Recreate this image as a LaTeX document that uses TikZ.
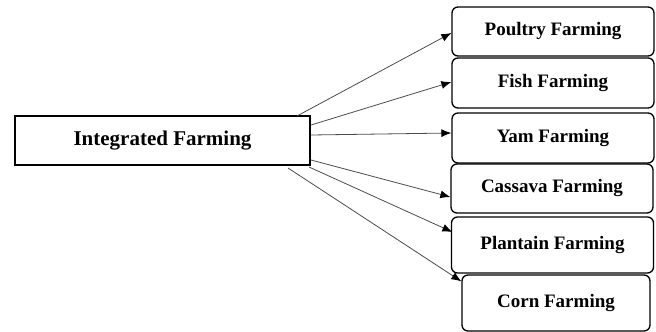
\documentclass[tikz,border=0pt]{standalone}
\usepackage{fontspec}
\setmainfont{Liberation Serif}
\usetikzlibrary{arrows.meta}
\begin{document}
\begin{tikzpicture}[x=1pt,y=-1pt,
  mainbox/.style={draw, line width=1.6pt, minimum width=295pt, minimum height=49pt, inner sep=0pt, font=\bfseries\fontsize{21}{24}\selectfont},
  itembox/.style={draw, line width=1.3pt, rounded corners=6pt, minimum width=202pt, inner sep=0pt, font=\bfseries\fontsize{19}{22}\selectfont},
  conn/.style={draw=black!70, line width=0.8pt, -{Latex[length=10pt,width=8pt,color=black]}}]
\useasboundingbox (0,0) rectangle (656,332);
\node[mainbox] (main) at (162.5,140.5) {Integrated Farming};
\node[itembox, minimum height=49pt] (poultry) at (553,31.5) {Poultry Farming};
\node[itembox, minimum height=50pt] (fish) at (553,83) {Fish Farming};
\node[itembox, minimum height=50pt] (yam) at (553,138) {Yam Farming};
\node[itembox, minimum height=49pt] (cassava) at (552,188.5) {Cassava Farming};
\node[itembox, minimum height=56pt] (plantain) at (552.5,245) {Plantain Farming};
\node[itembox, minimum height=56pt, minimum width=188pt] (corn) at (556,303) {Corn Farming};
\coordinate (s1) at (297,116);
\coordinate (s2) at (311,125);
\coordinate (s3) at (311,135);
\coordinate (s4) at (311,160);
\coordinate (s5) at (309,167);
\coordinate (s6) at (288,168);
\draw[conn] (s1) -- ([yshift=-1.5pt]poultry.west);
\draw[conn] (s2) -- ([yshift=1pt]fish.west);
\draw[conn] (s3) -- ([yshift=5pt]yam.west);
\draw[conn] (s4) -- ([yshift=-8.5pt]cassava.west);
\draw[conn] (s5) -- ([xshift=1.5pt,yshift=13pt]plantain.west);
\draw[conn] (s6) -- ([yshift=-7pt]corn.north west);
\end{tikzpicture}
\end{document}
